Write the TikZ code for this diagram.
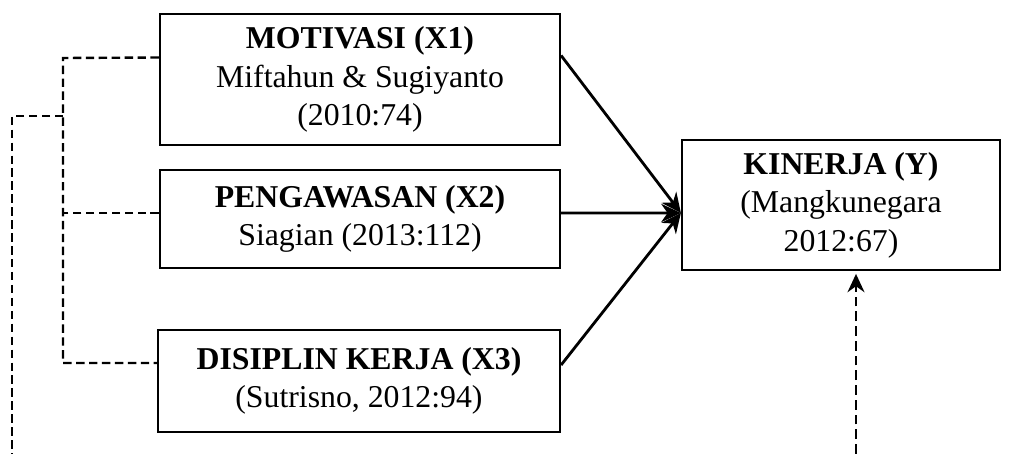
\documentclass[tikz,border=0pt]{standalone}
\usepackage{fontspec}
\setmainfont{Liberation Serif}
\usetikzlibrary{arrows.meta}

\tikzset{
  varbox/.style={shape=rectangle,draw=black,line width=1.5pt,inner sep=0pt,
    align=center,font=\fontsize{22.6}{27.3}\selectfont},
  link/.style={-{Stealth[length=14pt,width=13pt]},line width=2pt},
  trace/.style={line width=1.7pt,dash pattern=on 6pt off 3.2pt}
}

\begin{document}
\begin{tikzpicture}[x=0.025cm,y=-0.025cm]
                \useasboundingbox (0,0) rectangle (1015,454);
                \node[varbox,minimum width=10cm,minimum height=3.275cm](X1)at(360, 79.5){\textbf{MOTIVASI (X1)}\\Miftahun \& Sugiyanto\\(2010:74)};
                \node[varbox,minimum width=10cm,minimum height=2.45cm](X2)at(360, 219){\textbf{PENGAWASAN (X2)}\\Siagian (2013:112)};
                \node[varbox,minimum width=10.05cm,minimum height=2.55cm](X3)at(359, 381){\textbf{DISIPLIN KERJA (X3)}\\(Sutrisno, 2012:94)};
                \node[varbox,minimum width=7.95cm,minimum height=3.25cm](Y)at(841, 205){\textbf{KINERJA (Y)}\\(Mangkunegara\\2012:67)};
                \coordinate (join) at ([yshift=-0.2cm]Y.west);
                \draw[link] ([yshift=0.6cm]X1.east) -- (join);
                \draw[link] ([yshift=0.15cm]X2.east) -- (join);
                \draw[link] ([yshift=0.4cm]X3.east) -- (join);
                % dashed links on the left
                \coordinate (busTop) at (63, 58);
                \coordinate (busMid) at (63, 116);
                \coordinate (busEnd) at (63, 363);
                \coordinate (x2In) at ([yshift=0.15cm]X2.west);
                \coordinate (outerEnd) at (12, 454);
                \draw[trace] ([yshift=0.55cm]X1.west) -- (busTop) -- (busEnd) -- ([yshift=0.45cm]X3.west);
                \draw[trace] (x2In) -- (x2In -| busTop);
                \draw[trace] (busMid) -- (busMid -| outerEnd) -- (outerEnd);
                % dashed arrow into Y
                \coordinate (yBottom) at (856, 454);
                \draw[trace,line width=2pt,dash pattern=on 7pt off 3.5pt,-{Stealth[length=13pt,width=12pt]},shorten >=2pt] (yBottom) -- (yBottom |- Y.south);
            \end{tikzpicture}
\end{document}
